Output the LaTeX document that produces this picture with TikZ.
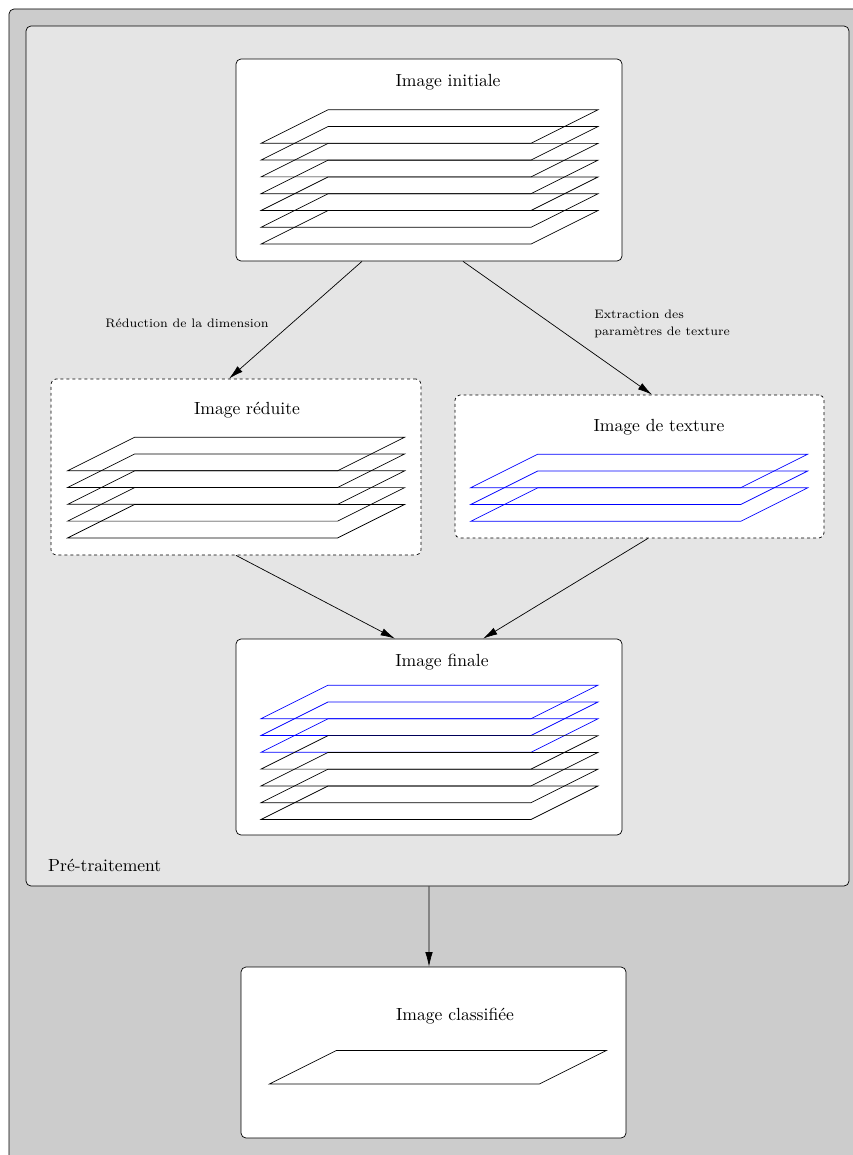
\documentclass[tikz,border=0pt]{standalone}
\usetikzlibrary{arrows.meta}

\begin{document}
\begin{tikzpicture}
[x=0.2mm,y=-0.2mm,>={Latex[length=2.9mm,width=1.5mm]},
boite/.style={draw,rounded corners=1mm,fill=white,inner sep=0pt},
boitepointillee/.style={boite,dash pattern=on 1.7pt off 1.7pt},
etiquette/.style={font=\fontsize{7}{9.8}\selectfont,inner sep=0pt},]
\clip (0,0) rectangle (853,1155);
\def\pas{16.8}
\def\plan#1#2#3{\draw[#1] (#2,#3) -- ++(270,0) -- ++(67,-33.5) -- ++(-270,0) -- cycle;}

% fonds
\fill[black!20,draw=black,rounded corners=1mm] (9,9) rectangle (880,1180);
\node (pre) at (437.5,456)[boite,fill=black!10,minimum width=164.6mm,minimum height=172mm]{};
\node (pre-t) at (42,865)[anchor=west]{Pré-traitement};

% boites
\node (ini) at (429,160)[boite,minimum width=77.2mm,minimum height=40.4mm]{};
\node (red) at (236,467)[boitepointillee,minimum width=74mm,minimum height=35.2mm]{};
\node (tex) at (639.5,466.5)[boitepointillee,minimum width=73.8mm,minimum height=28.6mm]{};
\node (fin) at (429,737)[boite,minimum width=77.2mm,minimum height=39.2mm]{};
\node (cla) at (433.5,1052.5)[boite,minimum width=77mm,minimum height=34.2mm]{};

\node (ini-t) at (448,82){Image initiale};
\node (red-t) at (247,410){Image réduite};
\node (tex-t) at (659,427){Image de texture};
\node (fin-t) at (442,662){Image finale};
\node (cla-t) at (455,1016){Image classifiée};

% couches
\foreach \k in {0,...,6} {\plan{black}{261}{143.3+\pas*\k}}
\foreach \k in {0,...,4} {\plan{black}{67.7}{470.7+\pas*\k}}
\foreach \k in {0,...,2} {\plan{blue}{470.7}{487.7+\pas*\k}}
\foreach \k in {0,...,2} {\plan{blue}{261}{718.7+\pas*\k}}
\foreach \k in {3,...,6} {\plan{black}{261}{718.7+\pas*\k}}
\plan{black}{269.3}{1084}

% fleches
\draw[->] ([xshift=-13.4mm]ini.south) -- ([xshift=-1.4mm]red.north);
\draw[->] ([xshift=6.8mm]ini.south) -- ([xshift=2.5mm]tex.north);
\draw[->] (red.south) -- ([xshift=-6.8mm]fin.north);
\draw[->] ([xshift=1.7mm]tex.south) -- ([xshift=10.8mm]fin.north);
\draw[->] ([xshift=-1.7mm]pre.south) -- ([xshift=-0.9mm]cla.north);

\node (red-e) at (187,323)[etiquette]{Réduction de la dimension};
\node (tex-e) at (594,324)[etiquette,anchor=west,align=left]{Extraction des\\paramètres de texture};

\end{tikzpicture}
\end{document}
